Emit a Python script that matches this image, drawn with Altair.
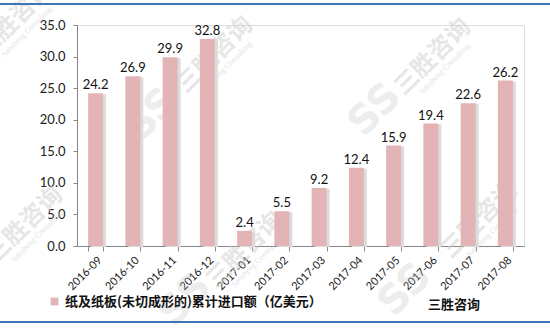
import altair as alt
import pandas as pd

# Cumulative imports of paper and paperboard (uncut), USD 100 million
months = ["2016-09", "2016-10", "2016-11", "2016-12", "2017-01", "2017-02",
          "2017-03", "2017-04", "2017-05", "2017-06", "2017-07", "2017-08"]
values = [24.2, 26.9, 29.9, 32.8, 2.4, 5.5, 9.2, 12.4, 15.9, 19.4, 22.6, 26.2]
series_name = "纸及纸板(未切成形的)累计进口额（亿美元）"
source_text = "三胜咨询"

df = pd.DataFrame({"month": months, "value": values, "series": series_name})

W, H = 447, 221
PAD = {"left": 77, "top": 25, "right": 26, "bottom": 82}
FONT = "Lato"
CJK = "Noto Sans CJK SC"

x_enc = alt.X("month:N", sort=months, title=None,
              scale=alt.Scale(paddingInner=0.6, paddingOuter=0.3),
              axis=alt.Axis(labelAngle=-45, labelFontSize=11, labelFont=FONT,
                            labelColor="#222222", tickBand="extent", tickSize=5,
                            domainColor="#868686", tickColor="#868686",
                            labelPadding=3, labelOverlap=False))
y_enc = alt.Y("value:Q", title=None,
              scale=alt.Scale(domain=[0, 35], nice=False),
              axis=alt.Axis(values=[0, 5, 10, 15, 20, 25, 30, 35], format=".1f",
                            grid=False, labelFontSize=13, labelFont=FONT,
                            labelColor="#222222", tickSize=4, labelPadding=8,
                            labelOverlap=False, labelFlush=False,
                            domainColor="#868686", tickColor="#868686"))

base = alt.Chart(df)

shadow = base.mark_bar(size=15, xOffset=3, yOffset=1, color="#DCDCDC").encode(
    x=x_enc, y=y_enc)

bars = base.mark_bar(size=15).encode(
    x=x_enc, y=y_enc,
    color=alt.Color("series:N",
                    scale=alt.Scale(range=["#E3B4B5"]),
                    legend=alt.Legend(title=None, orient="none",
                                      legendX=-29, legendY=270,
                                      symbolType="square", symbolSize=60,
                                      labelLimit=400,
                                      labelFont=CJK, labelFontSize=13,
                                      labelColor="#111111", labelFontWeight="bold")))

labels = base.mark_text(dy=-8, fontSize=13, font=FONT, color="#111111").encode(
    x=x_enc, y=y_enc, text=alt.Text("value:Q", format=".1f"))

# faint diagonal watermark: brand name and logo
wm_df = pd.DataFrame({
    "t": ["三胜咨询"] * 6,
    "px": [138, 356, -52, 168, 403, -62],
    "py": [30, 32, 200, 225, 195, -5],
})
watermark = alt.Chart(wm_df).mark_text(angle=315, fontSize=24, font=CJK,
                                       fontWeight="bold", color="#CFCFCF",
                                       opacity=0.5).encode(
    x=alt.value(0), y=alt.value(0), text="t:N",
    xOffset=alt.XOffset("px:Q", scale=None), yOffset=alt.YOffset("py:Q", scale=None))

sub_df = pd.DataFrame({
    "t": ["Sansheng Consulting"] * 6,
    "px": [150, 368, -40, 180, 415, -50],
    "py": [42, 44, 212, 237, 207, 7],
})
subwm = alt.Chart(sub_df).mark_text(angle=315, fontSize=8, font="Liberation Serif",
                                    color="#CFCFCF", opacity=0.6).encode(
    x=alt.value(0), y=alt.value(0), text="t:N",
    xOffset=alt.XOffset("px:Q", scale=None), yOffset=alt.YOffset("py:Q", scale=None))

logo_df = pd.DataFrame({"t": ["SS"] * 4, "px": [75, 298, 108, 328],
                        "py": [90, 85, 275, 265]})
logo = alt.Chart(logo_df).mark_text(angle=315, fontSize=40, font="DejaVu Sans",
                                    fontWeight="bold", color="#C4C4C4",
                                    opacity=0.3).encode(
    x=alt.value(0), y=alt.value(0), text="t:N",
    xOffset=alt.XOffset("px:Q", scale=None), yOffset=alt.YOffset("py:Q", scale=None))

top_line = alt.Chart(df).mark_rule(color="#3F73B8", strokeWidth=2).encode(
    x=alt.value(-77), x2=alt.value(473), y=alt.value(-21))
bottom_line = alt.Chart(df).mark_rule(color="#3F73B8", strokeWidth=2).encode(
    x=alt.value(-77), x2=alt.value(473), y=alt.value(297))

source = alt.Chart(pd.DataFrame({"t": [source_text]})).mark_text(
    font=CJK, fontSize=13, fontWeight="bold", color="#111111", align="left",
    baseline="middle").encode(x=alt.value(351), y=alt.value(280), text="t:N")

chart = alt.layer(watermark, subwm, logo, shadow, bars, labels, top_line,
                  bottom_line, source).properties(
    width=W, height=H, padding=PAD,
    autosize=alt.AutoSizeParams(type="none"),
).configure_view(stroke=None).configure(background="white")

chart.save("out.html", embed_options={"renderer": "svg", "actions": False})
